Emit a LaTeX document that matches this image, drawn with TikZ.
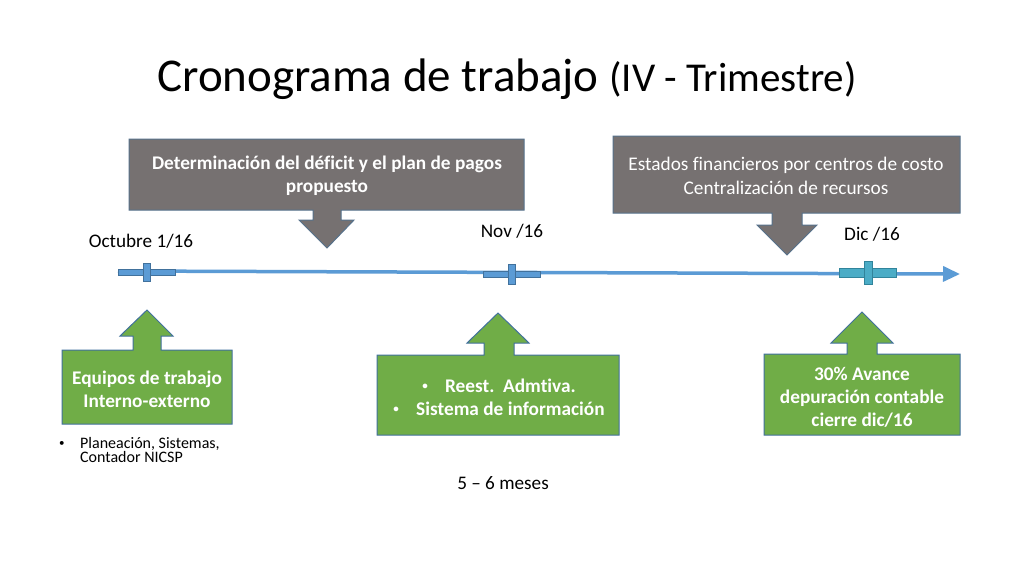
\documentclass[tikz,border=0pt]{standalone}
\usepackage{fontspec}
\setmainfont{Carlito}[Ligatures={NoCommon}]
\usetikzlibrary{arrows.meta}
\definecolor{boxgray}{HTML}{767171}
\definecolor{boxgreen}{HTML}{70AD47}
\definecolor{edgeblue}{HTML}{41719C}
\definecolor{lineblue}{HTML}{5B9BD5}
\definecolor{teal}{HTML}{4BACC6}
\definecolor{tealedge}{HTML}{31849B}
\newcommand{\smbul}{\raisebox{0.12em}{\fontsize{11}{11}\selectfont •}}
\tikzset{
  graycall/.style={fill=boxgray, draw=edgeblue!60!boxgray, line width=1pt},
  greencall/.style={fill=boxgreen, draw=edgeblue, line width=1pt},
  whitebold/.style={text=white, font=\fontsize{19.3}{23}\selectfont\bfseries, align=center, inner sep=0pt},
  whitereg/.style={text=white, font=\fontsize{19.3}{23.5}\selectfont, align=center, inner sep=0pt},
  datelabel/.style={text=black, font=\fontsize{19.2}{22}\selectfont, inner sep=0pt},
  tickbar/.style={fill=lineblue, draw=edgeblue, line width=0.8pt},
  ticktea/.style={fill=teal, draw=tealedge, line width=0.8pt},
}
\begin{document}
\begin{tikzpicture}[x=1pt,y=-1pt]
\useasboundingbox (0,0) rectangle (1024,576);
\fill[white] (0,0) rectangle (1024,576);

% title
\node[inner sep=0pt, anchor=base] (title) at (507,91)
  {\fontsize{47}{50}\selectfont Cronograma de trabajo \fontsize{41}{44}\selectfont(IV - Trimestre)};

% timeline
\coordinate (tlstart) at (118,271);
\coordinate (tlend) at (960,274);
\draw[lineblue, line width=3.5pt, -{Triangle[length=17pt,width=15pt]}] (tlstart) -- (tlend);

% markers
\draw[tickbar] (118,269) rectangle (175,275);
\draw[tickbar] (143,263) rectangle (150,281);
\draw[tickbar] (483,271) rectangle (540,277);
\draw[tickbar] (508,264) rectangle (515,284);
\draw[ticktea] (839,268) rectangle (896,277);
\draw[ticktea] (864,261) rectangle (872,284);

% date labels
\node[datelabel] (oct) at (141,241) {Octubre 1/16};
\node[datelabel] (nov) at (512,231) {Nov /16};
\node[datelabel] (dic) at (872,234) {Dic /16};

% top-left callout
\draw[graycall] (129,139) -- (524,139) -- (524,210) -- (341,210) -- (341,220) -- (354,220)
  -- (327,248) -- (299,220) -- (313,220) -- (313,210) -- (129,210) -- cycle;
\node[whitebold] (deficit) at (327,176) {Determinación del déficit y el plan de pagos\\propuesto};

% top-right callout
\draw[graycall] (613,136) -- (960,136) -- (960,213) -- (802,213) -- (802,225) -- (817,225)
  -- (787,255) -- (757,225) -- (772,225) -- (772,213) -- (613,213) -- cycle;
\node[whitereg] (estados) at (786,176) {Estados financieros por centros de costo\\Centralización de recursos};

% bottom-left callout
\draw[greencall] (62,424) -- (62,350) -- (133,350) -- (133,336) -- (120,336) -- (147,310)
  -- (173,336) -- (161,336) -- (161,350) -- (232,350) -- (232,424) -- cycle;
\node[whitebold] (equipos) at (147,389) {Equipos de trabajo\\Interno-externo};

% bottom-middle callout
\draw[greencall] (377,435) -- (377,355) -- (484,355) -- (484,343) -- (467,343) -- (498,313)
  -- (529,343) -- (514,343) -- (514,355) -- (619,355) -- (619,435) -- cycle;
\node[whitebold] (reest) at (499,397) {\smbul\hspace{0.9em}Reest.\ \ Admtiva.\\\smbul\hspace{0.9em}Sistema de información};

% bottom-right callout
\draw[greencall] (764,435) -- (764,354) -- (847,354) -- (847,343) -- (831,343) -- (862,312)
  -- (893,343) -- (877,343) -- (877,354) -- (960,354) -- (960,435) -- cycle;
\node[whitebold] (avance) at (862,397) {30\% Avance\\depuración contable\\cierre dic/16};

% bullet under left box
\node[inner sep=0pt, anchor=west, font=\fontsize{16}{14.5}\selectfont] (bul) at (59,445) {\smbul};
\node[inner sep=0pt, anchor=north west, align=left, font=\fontsize{16}{14.5}\selectfont] (plan) at (80,437)
  {Planeación, Sistemas,\\Contador NICSP};

% duration
\node[datelabel] (meses) at (503,483) {5 – 6 meses};
\end{tikzpicture}
\end{document}
